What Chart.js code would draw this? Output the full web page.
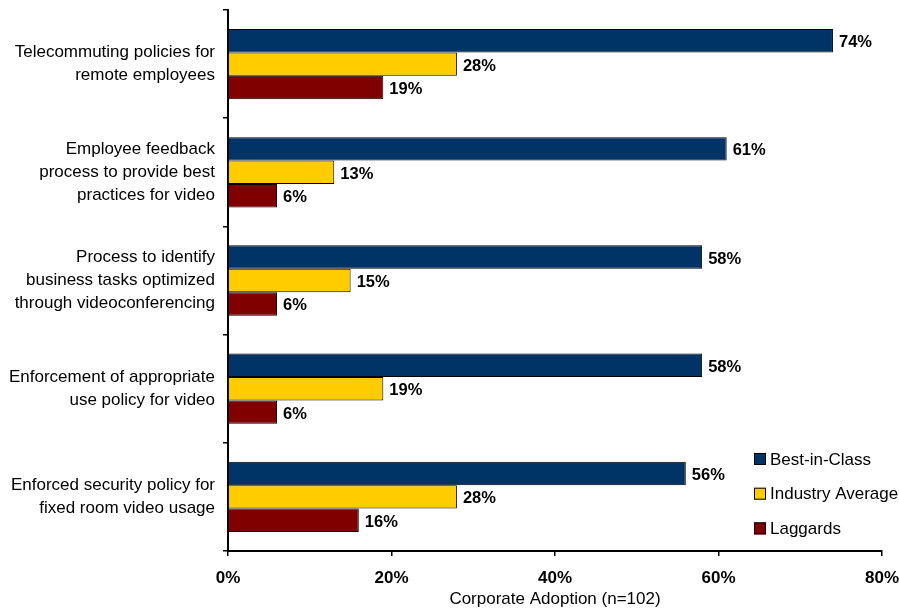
<!DOCTYPE html>
<html>
<head>
<meta charset="utf-8">
<script src="https://cdn.jsdelivr.net/npm/chart.js@4"></script>
<style>
  html, body { margin: 0; padding: 0; background: #fff; }
  #wrap { width: 899px; height: 610px; }
</style>
</head>
<body>
<div id="wrap"><canvas id="myChart" width="899" height="610"></canvas></div>
<script>
// Adoption of video policies, by maturity class

const categories = [
    ['Telecommuting policies for', 'remote employees'],
    ['Employee feedback', 'process to provide best', 'practices for video'],
    ['Process to identify', 'business tasks optimized', 'through videoconferencing'],
    ['Enforcement of appropriate', 'use policy for video'],
    ['Enforced security policy for', 'fixed room video usage']
];
const bestInClass = [74, 61, 58, 58, 56];
const industryAverage = [28, 13, 15, 19, 28];
const laggards = [19, 6, 6, 6, 16];
const xTicks = [0, 20, 40, 60, 80];

const FONT = "'Liberation Sans', Arial, Helvetica, sans-serif";

// percent label at the end of each bar
const barLabels = {
    id: 'barLabels',
    afterDatasetsDraw(chart) {
        const ctx = chart.ctx;
        ctx.save();
        ctx.font = 'bold 16.5px ' + FONT;
        ctx.fillStyle = '#000';
        ctx.textAlign = 'left';
        ctx.textBaseline = 'middle';
        chart.data.datasets.forEach((ds, i) => {
            chart.getDatasetMeta(i).data.forEach((bar, j) => {
                ctx.fillText(ds.data[j] + '%', bar.x + 6, bar.y + 2);
            });
        });
        ctx.restore();
    }
};

// legend box in the lower right corner of the plot
const cornerLegend = {
    id: 'cornerLegend',
    afterDraw(chart) {
        const ctx = chart.ctx;
        const area = chart.chartArea;
        const left = area.right - 128;
        ctx.save();
        ctx.font = '17px ' + FONT;
        ctx.textBaseline = 'middle';
        ctx.textAlign = 'left';
        chart.data.datasets.forEach((ds, i) => {
            const cy = area.bottom - 92 + i * 34.7;
            ctx.fillStyle = ds.backgroundColor;
            ctx.fillRect(left, cy - 6, 12, 12);
            ctx.strokeStyle = '#000';
            ctx.lineWidth = 1;
            ctx.strokeRect(left + 0.5, cy - 5.5, 11, 11);
            ctx.fillStyle = '#000';
            ctx.fillText(ds.label, left + 16, cy + 1);
        });
        ctx.restore();
    }
};

const data = {
    labels: categories,
    datasets: [
        {
            label: 'Best-in-Class',
            backgroundColor: '#003366',
            borderColor: '#000',
            borderWidth: 1,
            data: bestInClass,
        },
        {
            label: 'Industry Average',
            backgroundColor: '#FFCC00',
            borderColor: '#000',
            borderWidth: 1,
            data: industryAverage,
        },
        {
            label: 'Laggards',
            backgroundColor: '#800000',
            borderColor: '#000',
            borderWidth: 1,
            data: laggards,
        },
    ]
};

const config = {
    type: 'bar',
    data: data,
    plugins: [barLabels, cornerLegend],
    options: {
        indexAxis: 'y',
        responsive: false,
        animation: false,
        categoryPercentage: 0.65,
        barPercentage: 1.0,
        layout: { padding: { top: 10, right: 17, left: 0, bottom: 0 } },
        plugins: {
            legend: { display: false },
            tooltip: { enabled: false },
        },
        scales: {
            x: {
                min: 0,
                max: 80,
                afterBuildTicks: scale => { scale.ticks = xTicks.map(v => ({ value: v })); },
                afterFit: scale => {
                    scale.height = 59;
                    scale.paddingLeft = 0;
                    scale.paddingRight = 0;
                },
                border: { color: '#000', width: 2 },
                grid: { drawOnChartArea: false, tickLength: 5, color: '#000', lineWidth: 1.5 },
                ticks: {
                    padding: 12,
                    color: '#000',
                    font: { family: FONT, size: 17, weight: 'bold' },
                    callback: v => v + '%',
                },
                title: {
                    display: true,
                    text: 'Corporate Adoption (n=102)',
                    color: '#000',
                    padding: { top: 0, bottom: 0 },
                    font: { family: FONT, size: 17 },
                },
            },
            y: {
                afterFit: scale => {
                    scale.width = 228;
                    scale.paddingTop = 0;
                    scale.paddingBottom = 0;
                },
                border: { color: '#000', width: 2 },
                grid: { drawOnChartArea: false, tickLength: 5, color: '#000', lineWidth: 1.5 },
                ticks: {
                    padding: 8,
                    color: '#000',
                    font: { family: FONT, size: 17, lineHeight: 1.37 },
                },
            },
        },
    },
};

const myChart = new Chart(document.getElementById('myChart'), config);
</script>
</body>
</html>
